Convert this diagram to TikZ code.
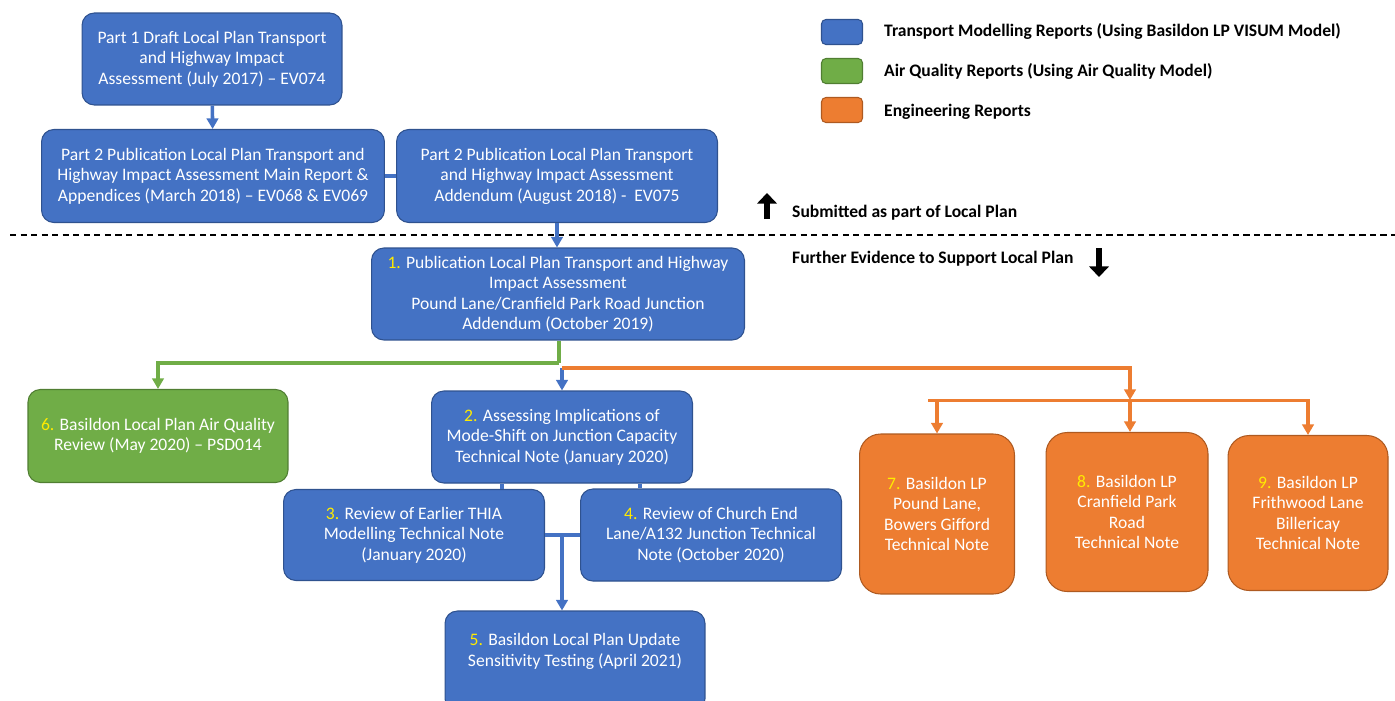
\documentclass[tikz,border=0pt]{standalone}
\usepackage{fontspec}
\setmainfont{Carlito}
\usetikzlibrary{arrows.meta, positioning, calc}
\definecolor{tmBlue}{HTML}{4472C4}
\definecolor{tmBlueDark}{HTML}{2F528F}
\definecolor{aqGreen}{HTML}{70AD47}
\definecolor{aqGreenDark}{HTML}{507E32}
\definecolor{engOrange}{HTML}{ED7D31}
\definecolor{engOrangeDark}{HTML}{AE5A21}
\definecolor{numYellow}{HTML}{FFEB00}

\newcommand{\num}[1]{\textcolor{numYellow}{#1}}

\begin{document}
\begin{tikzpicture}[
    x=0.02cm, y=-0.02cm,
    >={Triangle[length=6pt, width=6.5pt]},
    report/.style={rectangle, rounded corners=7pt, draw=tmBlueDark, fill=tmBlue,
                   line width=0.6pt, text=white, align=center,
                   font=\fontsize{10}{11.7}\selectfont, inner sep=2pt},
    airq/.style={report, draw=aqGreenDark, fill=aqGreen},
    eng/.style={report, draw=engOrangeDark, fill=engOrange, rounded corners=12pt},
    key/.style={rectangle, rounded corners=2.5pt, line width=0.6pt,
                minimum width=0.82cm, minimum height=0.5cm},
    keytxt/.style={anchor=west, font=\fontsize{10}{12}\selectfont\bfseries},
    bline/.style={tmBlue, line width=2pt},
    gline/.style={aqGreen, line width=2pt},
    oline/.style={engOrange, line width=2pt},
    bigarrow/.style={line width=3.8pt, -{Triangle[length=6pt, width=11pt]}},
  ]
    \useasboundingbox (0,0) rectangle (1395,700);

    % Submitted reports
    \node[report, minimum width=5.2cm, minimum height=1.84cm] (p1) at (212,59)
      {Part 1 Draft Local Plan Transport\\and Highway Impact\\Assessment (July 2017) -- EV074};
    \node[report, minimum width=6.86cm, minimum height=1.86cm] (p2a) at (213,176)
      {Part 2 Publication Local Plan Transport and\\Highway Impact Assessment Main Report \&\\Appendices (March 2018) -- EV068 \& EV069};
    \node[report, minimum width=6.42cm, minimum height=1.86cm] (p2b) at (557,176)
      {Part 2 Publication Local Plan Transport\\and Highway Impact Assessment\\Addendum (August 2018) -\ \ EV075};
    \draw[bline, ->] (p1) -- (p2a);
    \draw[bline] (p2a) -- (p2b);

    % Divider
    \coordinate (dl) at (10,235);
    \coordinate (dr) at (1395,235);
    \draw[line width=1.1pt, dash pattern=on 3.5pt off 2.5pt] (dl) -- (dr);

    % Further evidence
    \node[report, minimum width=7.46cm, minimum height=1.84cm] (b1) at (558,294)
      {\num{1.} Publication Local Plan Transport and Highway\\Impact Assessment\\Pound Lane/Cranfield Park Road Junction\\Addendum (October 2019)};
    \draw[bline, ->] (p2b.south) -- (p2b.south |- b1.north);

    \node[airq, minimum width=5.2cm, minimum height=1.86cm] (b6) at (158,436)
      {\num{6.} Basildon Local Plan Air Quality\\Review (May 2020) -- PSD014};
    \node[report, minimum width=5.22cm, minimum height=1.84cm] (b2) at (562,437)
      {\num{2.} Assessing Implications of\\Mode-Shift on Junction Capacity\\Technical Note (January 2020)};
    \node[report, minimum width=5.22cm, minimum height=1.82cm] (b3) at (414,535)
      {\num{3.} Review of Earlier THIA\\Modelling Technical Note\\(January 2020)};
    \node[report, minimum width=5.22cm, minimum height=1.84cm] (b4) at (711,535)
      {\num{4.} Review of Church End\\Lane/A132 Junction Technical\\Note (October 2020)};
    \node[report, minimum width=5.2cm, minimum height=2.0cm] (b5) at (575,661)
      {\num{5.} Basildon Local Plan Update\\Sensitivity Testing (April 2021)\\[1pt]};

    \node[eng, minimum width=3.1cm, minimum height=3.2cm] (b7) at (937,514)
      {\num{7.} Basildon LP\\Pound Lane,\\Bowers Gifford\\Technical Note};
    \node[eng, minimum width=3.24cm, minimum height=3.18cm] (b8) at (1127,512)
      {\num{8.} Basildon LP\\Cranfield Park\\Road\\Technical Note};
    \node[eng, minimum width=3.2cm, minimum height=3.1cm] (b9) at (1308,513)
      {\num{9.} Basildon LP\\Frithwood Lane\\Billericay\\Technical Note};

    % Branches from 1
    \coordinate (split) at (559,363);
    \coordinate (osplit) at (562,368);
    \coordinate (ohub) at (1130,400);
    \draw[gline] (b1.south -| split) -- (split);
    \draw[gline, ->] (split) -| (b6.north);
    \draw[bline, ->] (osplit -| b2.north) -- (b2.north);
    \draw[oline, ->] (osplit) -| (ohub);
    \draw[oline, ->] (ohub) -- (ohub |- b8.north);
    \draw[oline, ->] ($(b7.north)+(-9,-33)$) -| (b7.north);
    \draw[oline, ->] ($(b7.north)+(-9,-33)$) -| (b9.north);

    % Links below 2
    \draw[bline] ([xshift=1.42cm]b2.south west) -- ([xshift=1.42cm]b2.south west |- b3.north);
    \draw[bline] ([xshift=-1.06cm]b2.south east) -- ([xshift=-1.06cm]b2.south east |- b4.north);
    \coordinate (join) at (562,537);
    \draw[bline] (b3.east) -- (b4.west);
    \draw[bline, ->] (join) -- (join |- b5.north);

    % Legend
    \node[key, draw=tmBlueDark, fill=tmBlue] (kb) at (842,32) {};
    \node[key, draw=aqGreenDark, fill=aqGreen] (kg) at (842,71) {};
    \node[key, draw=engOrangeDark, fill=engOrange] (ko) at (842,110) {};
    \node[keytxt] (kbt) at (878,31) {Transport Modelling Reports (Using Basildon LP VISUM Model)};
    \node[keytxt] (kgt) at (878,71) {Air Quality Reports (Using Air Quality Model)};
    \node[keytxt] (kot) at (878,112) {Engineering Reports};

    % Above / below the line
    \coordinate (upb) at (767,219);
    \coordinate (upt) at (767,193);
    \draw[bigarrow] (upb) -- (upt);
    \node[keytxt] (sub) at (786,213) {Submitted as part of Local Plan};
    \node[keytxt] (fur) at (786,259) {Further Evidence to Support Local Plan};
    \coordinate (dnt) at (1099,248);
    \coordinate (dnb) at (1099,277);
    \draw[bigarrow] (dnt) -- (dnb);
  \end{tikzpicture}
\end{document}
